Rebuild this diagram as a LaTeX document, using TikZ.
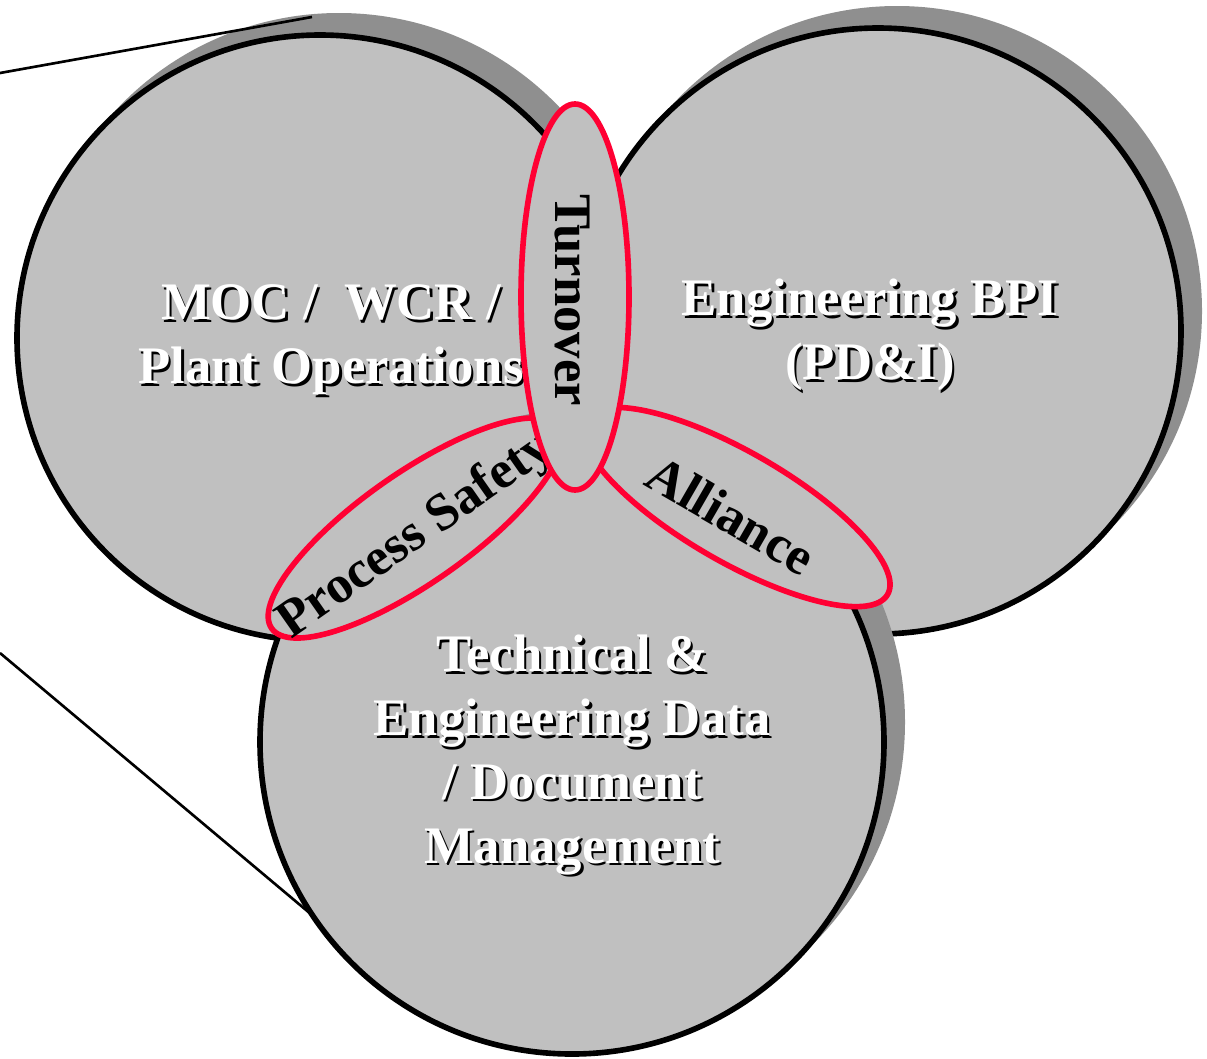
\documentclass[tikz,border=0pt]{standalone}
\usepackage{fontspec}
\setmainfont{Liberation Serif}
\usepackage{tikz}
\usetikzlibrary{shapes.geometric}

\definecolor{venngray}{RGB}{192,192,192}
\definecolor{shadegray}{RGB}{143,143,143}
\definecolor{lensred}{RGB}{255,0,51}

\tikzset{
    shade/.style={fill=shadegray},
    disc/.style={draw=black, fill=venngray, line width=1.6pt},
    callout/.style={draw=black, line width=0.75pt},
    areatext/.style={text=white, align=center, font=\fontsize{15pt}{18.2pt}\selectfont\bfseries},
    lens/.style={ellipse, draw=lensred, fill=venngray, line width=1.6pt, inner sep=0pt},
    lenstext/.style={text=black, font=\fontsize{15pt}{18.2pt}\selectfont\bfseries},
}

% white label with a small black drop shadow
\newcommand{\embosslabel}[3]{%
    \node[areatext, text=black, xshift=0.025cm, yshift=-0.025cm] (#1-shade) at (#2) {#3};
    \node[areatext] (#1) at (#2) {#3};
}

\begin{document}
\begin{tikzpicture}
        \useasboundingbox (0.00, 0.00) rectangle (12.07,10.58);

        \coordinate (moc) at ( 3.20, 7.20);
        \coordinate (bpi) at ( 8.78, 7.27);
        \coordinate (ted) at ( 5.72, 3.16);
        \coordinate (zoomtop) at ( 0.00, 9.85);
        \coordinate (zoomtopend) at ( 3.12,10.41);
        \coordinate (zoombot) at ( 0.00, 4.05);
        \coordinate (zoombotend) at ( 3.12, 1.43);

        \fill[shade] ([shift={(0.19,0.20)}]moc) circle (3.05);
        \filldraw[disc] (moc) circle (3.03);

        \draw[callout] (zoomtop) -- (zoomtopend);
        \draw[callout] (zoombot) -- (zoombotend);

        \fill[shade] ([shift={(0.19,0.20)}]bpi) circle (3.05);
        \filldraw[disc] (bpi) circle (3.03);

        \fill[shade] ([shift={(0.19,0.20)}]ted) circle (3.14);
        \filldraw[disc] (ted) circle (3.12);

        \embosslabel{moclabel}{3.31,7.18}{MOC /\ \ WCR /\\Plant Operations}
        \embosslabel{bpilabel}{8.70,7.23}{Engineering BPI\\(PD\&I)}
        \embosslabel{tedlabel}{5.72,3.03}{Technical \&\\Engineering Data\\/ Document\\Management}

        \node[lens, minimum width=3.50cm, minimum height=1.10cm, rotate=35] (safety) at ( 4.15, 5.30) {};
        \node[lenstext, rotate=35] (safetylabel) at ( 4.16, 5.22) {Process Safety};

        \node[lens, minimum width=3.50cm, minimum height=1.10cm, rotate=-30] (alliance) at ( 7.36, 5.51) {};
        \node[lenstext, rotate=-30] (alliancelabel) at ( 7.31, 5.43) {Alliance};

        \node[lens, minimum width=1.08cm, minimum height=3.86cm] (turnover) at ( 5.75, 7.61) {};
        \node[lenstext, rotate=-90] (turnoverlabel) at ( 5.72, 7.58) {Turnover};
    \end{tikzpicture}
\end{document}
